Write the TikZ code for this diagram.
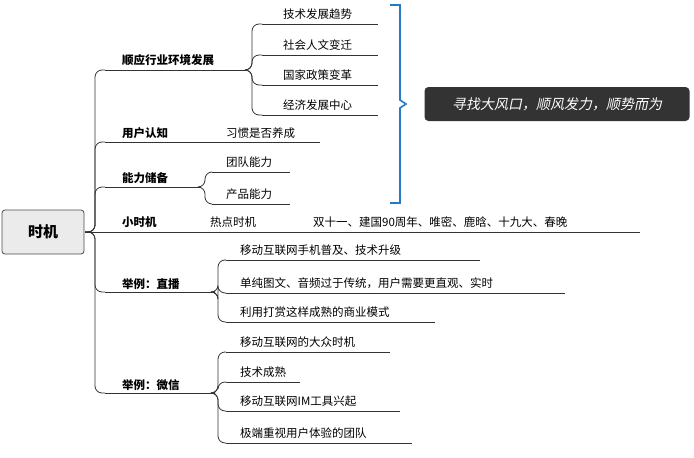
\documentclass[tikz,border=0pt]{standalone}
\usepackage{fontspec}
\setmainfont{Noto Sans CJK SC}
\newfontfamily\slcjk[FakeSlant=0.2]{Noto Sans CJK SC}
\begin{document}
\begin{tikzpicture}[x=1pt,y=-1pt,
  ln/.style={draw=black!80,line width=0.8pt},
  con/.style={draw=black!80,line width=0.8pt,rounded corners=7pt},
  br/.style={font=\fontsize{11.5}{13}\selectfont\bfseries,anchor=west,inner sep=0pt},
  lf/.style={font=\fontsize{11.5}{13}\selectfont,anchor=west,inner sep=0pt}]
\useasboundingbox (0,0) rectangle (694,458);
\node[draw=black!70,fill=black!8,rounded corners=3pt,minimum width=82pt,minimum height=44pt,line width=0.8pt,font=\fontsize{15}{18}\selectfont\bfseries] (root) at (43,232) {时机};
\coordinate (r) at (85,232);
\coordinate (b1s) at (105,70); \coordinate (b1e) at (245,70);
\coordinate (b2s) at (105,142); \coordinate (b2e) at (320,142);
\coordinate (b3s) at (105,187); \coordinate (b3e) at (200,187);
\coordinate (b4s) at (100,232); \coordinate (b4e) at (640,232);
\coordinate (b5s) at (105,292); \coordinate (b5e) at (215,292);
\coordinate (b6s) at (105,393); \coordinate (b6e) at (215,393);
\foreach \s/\e in {b1s/b1e,b2s/b2e,b3s/b3e,b4s/b4e,b5s/b5e,b6s/b6e}{\draw[ln] (\s)--(\e);}
\foreach \s in {b1s,b2s,b3s,b5s,b6s}{\draw[con] (r)--(95,232)|-(\s);}
\draw[ln] (r)--(b4s);
\node[br] (t1) at (122,60) {顺应行业环境发展};
\node[br] (t2) at (122,133) {用户认知};
\node[lf] (t2a) at (226,133) {习惯是否养成};
\node[br] (t3) at (122,178) {能力储备};
\node[br] (t4) at (122,222) {小时机};
\node[lf] (t4a) at (210,222) {热点时机};
\node[lf] (t4b) at (313,222) {双十一、建国90周年、唯密、鹿晗、十九大、春晚};
\node[br] (t5) at (122,284) {举例：直播};
\node[br] (t6) at (122,385) {举例：微信};
\foreach \n/\y/\t in {c1/24/技术发展趋势,c2/55/社会人文变迁,c3/85/国家政策变革,c4/115/经济发展中心}{
  \coordinate (\n s) at (262,\y); \coordinate (\n e) at (378,\y);
  \draw[ln] (\n s)--(\n e);
  \draw[con] (b1e)--(252,70)|-(\n s);
  \node[lf] (\n) at (283,\y-10) {\t};}
\foreach \n/\y/\t/\w in {d1/172/团队能力/290,d2/204/产品能力/290}{
  \coordinate (\n s) at (212,\y); \coordinate (\n e) at (\w,\y);
  \draw[ln] (\n s)--(\n e);
  \draw[con] (b3e)--(205,187)|-(\n s);
  \node[lf] (\n) at (226,\y-10) {\t};}
\foreach \n/\y/\t/\w in {e1/260/移动互联网手机普及、技术升级/480,e2/293/单纯图文、音频过于传统，用户需要更直观、实时/565,e3/322/利用打赏这样成熟的商业模式/435}{
  \coordinate (\n s) at (226,\y); \coordinate (\n e) at (\w,\y);
  \draw[ln] (\n s)--(\n e);
  \draw[con] (b5e)--(218,292)|-(\n s);
  \node[lf] (\n) at (240,\y-10) {\t};}
\foreach \n/\y/\t/\w in {f1/352/移动互联网的大众时机/390,f2/382/技术成熟/300,f3/411/移动互联网IM工具兴起/400,f4/443/极端重视用户体验的团队/412}{
  \coordinate (\n s) at (226,\y); \coordinate (\n e) at (\w,\y);
  \draw[ln] (\n s)--(\n e);
  \draw[con] (b6e)--(218,393)|-(\n s);
  \node[lf] (\n) at (240,\y-10) {\t};}
\draw[draw={rgb,255:red,40;green,120;blue,200},line width=1.6pt] (390,5)--(400,5)--(400,100)--(406,104)--(400,108)--(400,203)--(390,203);
\node[fill=black!80,rounded corners=4pt,minimum width=265pt,minimum height=34pt,text=white,font=\slcjk\fontsize{14}{16}\selectfont] (call) at (557,104) {寻找大风口，顺风发力，顺势而为};
\end{tikzpicture}
\end{document}
